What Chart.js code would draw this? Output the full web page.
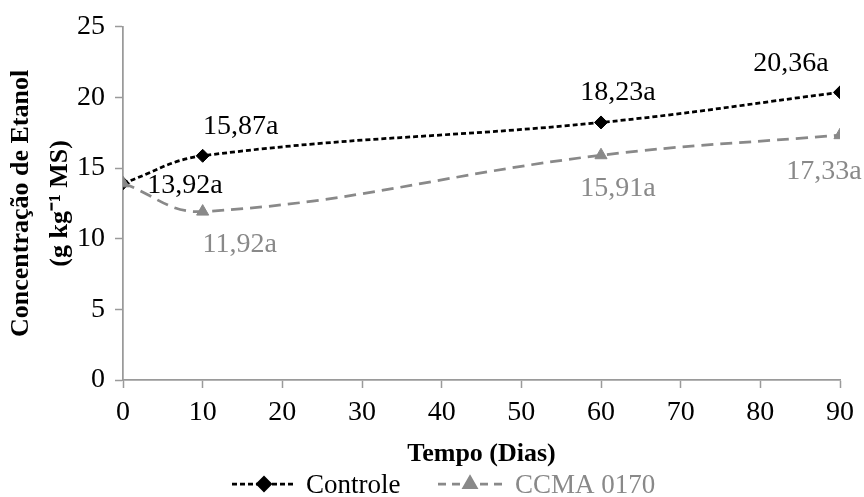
<!DOCTYPE html>
<html>
<head>
<meta charset="utf-8">
<script src="https://cdn.jsdelivr.net/npm/chart.js@4/dist/chart.umd.min.js"></script>
<style>
  html, body { margin: 0; padding: 0; background: #fff; }
  #wrap { width: 864px; height: 497px; }
</style>
</head>
<body>
<div id="wrap"><canvas id="c" width="864" height="497"></canvas></div>
<script>
/* Etanol concentration over time — two treatments */

var dias = [0, 10, 60, 90];
var controle = [13.92, 15.87, 18.23, 20.36];
var ccma = [13.92, 11.92, 15.91, 17.33];
var letrasControle = ['a', 'a', 'a', 'a'];
var letrasCcma = ['a', 'a', 'a', 'a'];
var seriesNames = ['Controle', 'CCMA 0170'];

var SERIF = "'Liberation Serif', 'Times New Roman', serif";
var BLACK = '#000000';
var GREY = '#898989';
var AXIS = '#9a9a9a';

function pts(xs, ys) {
  return xs.map(function (x, i) { return { x: x, y: ys[i] }; });
}
function fmt(v, letter) {
  return v.toFixed(2).replace('.', ',') + letter;
}

/* label offsets from each point (px), null = not drawn */
var noteOffsets = [
  [[62, 2], [38, -29], [17, -30], [-49, -29]],
  [null, [37, 33], [17, 33], [-16, 36]]
];

/* value labels beside the points */
var valueLabels = {
  id: 'valueLabels',
  afterDatasetsDraw: function (chart) {
    var ctx = chart.ctx;
    ctx.save();
    ctx.font = '28px ' + SERIF;
    ctx.textAlign = 'center';
    ctx.textBaseline = 'middle';
    chart.data.datasets.forEach(function (ds, di) {
      var meta = chart.getDatasetMeta(di);
      ctx.fillStyle = ds.borderColor;
      meta.data.forEach(function (el, i) {
        var off = noteOffsets[di][i];
        if (!off) return;
        ctx.fillText(fmt(ds.data[i].y, ds.letters[i]), el.x + off[0], el.y + off[1]);
      });
    });
    ctx.restore();
  }
};

/* Excel-style legend: dashed line with marker, then name */
var legendX = [232, 438];
var lineLegend = {
  id: 'lineLegend',
  afterDraw: function (chart) {
    var ctx = chart.ctx;
    var y = 484;
    ctx.save();
    ctx.font = '27px ' + SERIF;
    ctx.textBaseline = 'middle';
    chart.data.datasets.forEach(function (ds, i) {
      var x = legendX[i];
      ctx.strokeStyle = ds.borderColor;
      ctx.lineWidth = ds.borderWidth;
      ctx.setLineDash(ds.legendDash);
      ctx.beginPath();
      ctx.moveTo(x, y);
      ctx.lineTo(x + 64, y);
      ctx.stroke();
      ctx.setLineDash([]);
      Chart.helpers.drawPoint(ctx, {
        pointStyle: ds.pointStyle, radius: ds.pointRadius, borderWidth: 1
      }, x + 32, y);
      ctx.fillStyle = ds.borderColor;
      ctx.fill();
      ctx.fillText(ds.label, x + 74 + i * 3, y + 2);
    });
    ctx.restore();
  }
};

new Chart(document.getElementById('c'), {
  type: 'line',
  data: {
    datasets: [
      {
        label: seriesNames[0],
        data: pts(dias, controle),
        letters: letrasControle,
        borderColor: BLACK,
        backgroundColor: BLACK,
        borderWidth: 2.75,
        borderDash: [5, 3],
        legendDash: [5, 3],
        pointStyle: 'rectRot',
        pointRadius: 6.5,
        pointBorderWidth: 1,
        tension: 0.4,
        order: 1
      },
      {
        label: seriesNames[1],
        data: pts(dias, ccma),
        letters: letrasCcma,
        borderColor: GREY,
        backgroundColor: GREY,
        borderWidth: 2.75,
        borderDash: [12, 7],
        legendDash: [8, 6],
        pointStyle: 'triangle',
        pointRadius: 7,
        pointBorderWidth: 1,
        tension: 0.4,
        order: 0
      }
    ]
  },
  options: {
    responsive: false,
    animation: false,
    layout: { padding: { top: 25, right: 24, bottom: 27, left: 0 } },
    plugins: {
      legend: { display: false },
      tooltip: { enabled: false }
    },
    scales: {
      x: {
        type: 'linear',
        min: 0, max: 90,
        afterFit: function (s) { s.height = 90; },
        ticks: { stepSize: 10, color: BLACK, padding: 8, maxRotation: 0,
                 font: { family: SERIF, size: 28 } },
        grid: { drawOnChartArea: false, color: AXIS, tickLength: 8, tickWidth: 1.5 },
        border: { color: AXIS, width: 1.75 },
        title: { display: true, text: 'Tempo (Dias)', color: BLACK, padding: 0,
                 font: { family: SERIF, size: 26, weight: 'bold', lineHeight: 1.2 } }
      },
      y: {
        min: 0, max: 25,
        afterFit: function (s) { s.width = 123; },
        ticks: { stepSize: 5, color: BLACK, padding: 10,
                 font: { family: SERIF, size: 28 } },
        grid: { drawOnChartArea: false, color: AXIS, tickLength: 8, tickWidth: 1.5 },
        border: { color: AXIS, width: 1.75 },
        title: { display: true, text: ['Concentração de Etanol', '(g kg\u207B\u00B9 MS)'],
                 color: BLACK, padding: { top: 2, bottom: 0 },
                 font: { family: SERIF, size: 26, weight: 'bold', lineHeight: 1.5 } }
      }
    }
  },
  plugins: [valueLabels, lineLegend]
});
</script>
</body>
</html>
